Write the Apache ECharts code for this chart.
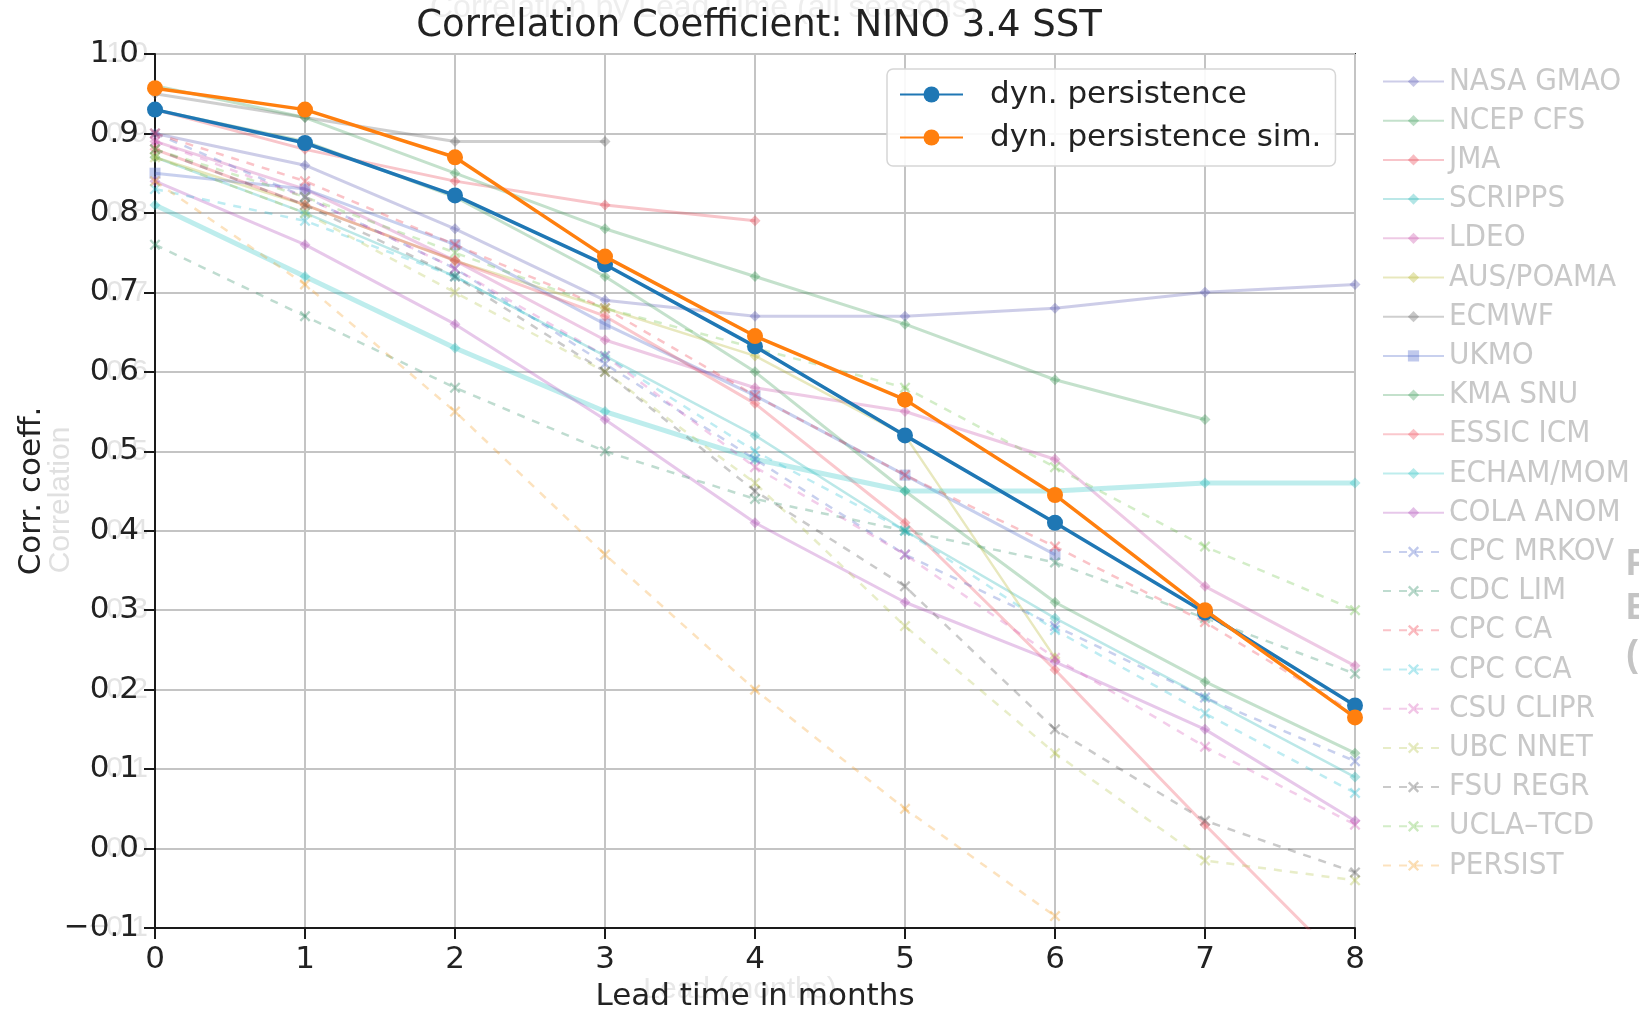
<!DOCTYPE html>
<html>
<head>
<meta charset="utf-8">
<script src="https://cdn.jsdelivr.net/npm/echarts@6/dist/echarts.min.js"></script>
<style>
html,body{margin:0;padding:0;background:#fff;}
#chart{width:1639px;height:1010px;}
</style>
</head>
<body>
<div id="chart"></div>
<script>
// ---------- data ----------
const leads = [0, 1, 2, 3, 4, 5, 6, 7, 8];
const yMin = -0.1, yMax = 1.0, yStep = 0.1;

const dynPersistence    = [0.930, 0.888, 0.822, 0.735, 0.632, 0.520, 0.410, 0.297, 0.180];
const dynPersistenceSim = [0.957, 0.930, 0.870, 0.745, 0.645, 0.565, 0.445, 0.300, 0.165];

// faint background models (lead 0..8, null = not available)
const nasaGmao  = [0.90, 0.86, 0.78, 0.69, 0.67, 0.67, 0.68, 0.70, 0.71];
const ncepCfs   = [0.93, 0.89, 0.82, 0.72, 0.60, 0.45, 0.31, 0.21, 0.12];
const jma       = [0.93, 0.88, 0.84, 0.81, 0.79, null, null, null, null];
const scripps   = [0.87, 0.80, 0.72, 0.62, 0.52, 0.40, 0.29, 0.19, 0.09];
const ldeo      = [0.89, 0.83, 0.74, 0.64, 0.58, 0.55, 0.49, 0.33, 0.23];
const ausPoama  = [0.87, 0.81, 0.74, 0.68, 0.62, 0.52, 0.24, null, null];
const ecmwf     = [0.95, 0.92, 0.89, 0.89, null, null, null, null, null];
const ukmo      = [0.85, 0.83, 0.76, 0.66, 0.57, 0.47, 0.37, null, null];
const kmaSnu    = [0.96, 0.92, 0.85, 0.78, 0.72, 0.66, 0.59, 0.54, null];
const essicIcm  = [0.88, 0.81, 0.74, 0.67, 0.56, 0.41, 0.225, 0.03, -0.16];
const echamMom  = [0.81, 0.72, 0.63, 0.55, 0.49, 0.45, 0.45, 0.46, 0.46];
const colaAnom  = [0.84, 0.76, 0.66, 0.54, 0.41, 0.31, 0.235, 0.15, 0.035];
const cpcMrkov  = [0.90, 0.82, 0.73, 0.61, 0.49, 0.37, 0.28, 0.19, 0.11];
const cdcLim    = [0.76, 0.67, 0.58, 0.50, 0.44, 0.40, 0.36, 0.29, 0.22];
const cpcCa     = [0.90, 0.84, 0.76, 0.68, 0.57, 0.47, 0.38, 0.285, 0.17];
const cpcCca    = [0.83, 0.79, 0.72, 0.62, 0.50, 0.40, 0.275, 0.17, 0.07];
const csuClipr  = [0.89, 0.82, 0.73, 0.62, 0.48, 0.37, 0.24, 0.128, 0.03];
const ubcNnet   = [0.87, 0.80, 0.70, 0.60, 0.46, 0.28, 0.12, -0.015, -0.04];
const fsuRegr   = [0.88, 0.81, 0.72, 0.60, 0.45, 0.33, 0.15, 0.035, -0.03];
const uclaTcd   = [0.88, 0.82, 0.75, 0.68, 0.63, 0.58, 0.48, 0.38, 0.30];
const persist   = [0.84, 0.71, 0.55, 0.37, 0.20, 0.05, -0.085, null, null];

const bgNames = ['NASA GMAO','NCEP CFS','JMA','SCRIPPS','LDEO','AUS/POAMA','ECMWF','UKMO','KMA SNU',
  'ESSIC ICM','ECHAM/MOM','COLA ANOM','CPC MRKOV','CDC LIM','CPC CA','CPC CCA','CSU CLIPR',
  'UBC NNET','FSU REGR','UCLA\u2013TCD','PERSIST'];
const bgValues = [nasaGmao, ncepCfs, jma, scripps, ldeo, ausPoama, ecmwf, ukmo, kmaSnu,
  essicIcm, echamMom, colaAnom, cpcMrkov, cdcLim, cpcCa, cpcCca, csuClipr,
  ubcNnet, fsuRegr, uclaTcd, persist];

// ---------- styles ----------
const bgColors = ['#5a5ab4','#3a9a55','#e8404e','#22b4b4','#c850a8','#b4b428','#606060','#4a64c8','#3a9a55',
  '#f04a5a','#28c4c4','#b048b8','#4a64c8','#2a8a62','#f03848','#28c0d4','#d858b8',
  '#b4c448','#505050','#6cc448','#f4a028'];
const bgDashed = [false,false,false,false,false,false,false,false,false,false,false,false,
  true,true,true,true,true,true,true,true,true];
const bgWidth  = [3,3,3,2.5,3,2.5,3,3,3,3,5,3,2.5,2.5,2.5,2.5,2.5,2.5,2.5,2.5,2.5];
const xPath = 'path://M0,1.5L1.5,0L5,3.5L8.5,0L10,1.5L6.5,5L10,8.5L8.5,10L5,6.5L1.5,10L0,8.5L3.5,5Z';

const pair = arr => leads.map((x, i) => [x, arr[i]]).filter(p => p[1] !== null);
const fmt = v => { const s = Math.abs(v) < 1e-9 ? '0.0' : v.toFixed(1); return s.replace('-', '\u2212'); };

const series = [];
bgNames.forEach((name, i) => {
  series.push({
    name: name, type: 'line', data: pair(bgValues[i]), z: 2,
    symbol: bgDashed[i] ? xPath : (i === 7 ? 'rect' : 'diamond'),
    symbolSize: 11, showSymbol: true, clip: true,
    lineStyle: { color: bgColors[i], width: bgWidth[i], type: bgDashed[i] ? [8, 8] : 'solid', opacity: 0.3 },
    itemStyle: { color: bgColors[i], opacity: 0.35 },
    emphasis: { disabled: true }, silent: true
  });
});
series.push({
  name: 'dyn. persistence', type: 'line', data: pair(dynPersistence), z: 10,
  symbol: 'circle', symbolSize: 16, lineStyle: { color: '#1f77b4', width: 3.5 },
  itemStyle: { color: '#1f77b4' }, emphasis: { disabled: true }
});
series.push({
  name: 'dyn. persistence sim.', type: 'line', data: pair(dynPersistenceSim), z: 11,
  symbol: 'circle', symbolSize: 16, lineStyle: { color: '#ff7f0e', width: 3.5 },
  itemStyle: { color: '#ff7f0e' }, emphasis: { disabled: true }
});

const chart = echarts.init(document.getElementById('chart'), null, { renderer: 'canvas' });
chart.setOption({
  animation: false,
  backgroundColor: '#ffffff',
  title: {
    text: 'Correlation Coefficient: NINO 3.4 SST', left: 754, top: 3, textAlign: 'center',
    textStyle: { fontFamily: 'DejaVu Sans', fontSize: 37, fontWeight: 'normal', color: '#222' }
  },
  grid: { left: 155, right: 284, top: 54, bottom: 82, show: true, borderColor: '#1a1a1a', borderWidth: 2,
    containLabel: false, outerBoundsMode: 'none' },
  xAxis: {
    type: 'value', min: 0, max: 8, interval: 1,
    name: 'Lead time in months', nameLocation: 'middle', nameGap: 53,
    nameTextStyle: { fontFamily: 'DejaVu Sans', fontSize: 31, color: '#222' },
    axisLine: { show: true, onZero: false, lineStyle: { color: '#1a1a1a', width: 2 } },
    axisTick: { show: true, length: 11, lineStyle: { color: '#1a1a1a', width: 2 } },
    axisLabel: { fontFamily: 'DejaVu Sans', fontSize: 31, color: '#222', margin: 16, formatter: v => String(v) },
    splitLine: { show: true, lineStyle: { color: '#c4c4c4', width: 2 } }
  },
  yAxis: [{
    type: 'value', min: yMin, max: yMax, interval: yStep,
    name: 'Corr. coeff.', nameLocation: 'middle', nameGap: 108, nameRotate: 90,
    nameTextStyle: { fontFamily: 'DejaVu Sans', fontSize: 31, color: '#222' },
    axisLine: { show: true, onZero: false, lineStyle: { color: '#1a1a1a', width: 2 } },
    axisTick: { show: true, length: 11, lineStyle: { color: '#1a1a1a', width: 2 } },
    axisLabel: { fontFamily: 'DejaVu Sans', fontSize: 31, color: '#222', margin: 16, formatter: fmt },
    splitLine: { show: true, lineStyle: { color: '#c4c4c4', width: 2 } }
  }, {
    type: 'value', min: yMin, max: yMax, interval: yStep, position: 'left', offset: -9,
    axisLine: { show: false }, axisTick: { show: false }, splitLine: { show: false },
    axisLabel: { fontFamily: 'Liberation Sans', fontSize: 30, color: '#e4e4e4', margin: 16, formatter: fmt,
      padding: [6, 0, 0, 0] }, z: -1
  }],
  legend: [{
    data: ['dyn. persistence', 'dyn. persistence sim.'], z: 20,
    left: 887, top: 69, orient: 'vertical', selectedMode: false,
    padding: [10, 14, 13, 12], itemWidth: 63, itemHeight: 20, itemGap: 12,
    borderColor: '#d6d6d6', borderWidth: 1.5, borderRadius: 6, backgroundColor: 'rgba(255,255,255,0.9)',
    textStyle: { fontFamily: 'DejaVu Sans', fontSize: 31, lineHeight: 31, color: '#222', padding: [0, 0, 0, 22] }
  }, {
    data: bgNames, left: 1382, top: 66, orient: 'vertical', selectedMode: false,
    padding: 0, itemWidth: 61, itemHeight: 14, itemGap: 8.2,
    textStyle: { fontFamily: '"DejaVu Sans Condensed", "Liberation Sans Narrow", sans-serif',
      fontSize: 31, lineHeight: 31, color: '#c8c8c8' }
  }],
  graphic: [
    { type: 'text', left: 430, top: -8, z: 0, silent: true,
      style: { text: 'Correlation by Lead Time (all seasons)', fill: '#eeeeee', font: '32px "Liberation Sans", sans-serif' } },
    { type: 'text', x: 61, y: 500, rotation: Math.PI / 2, z: 0, silent: true,
      style: { text: 'Correlation', fill: '#e0e0e0', align: 'center', verticalAlign: 'middle', font: '30px "Liberation Sans", sans-serif' } },
    { type: 'text', x: 740, y: 990, z: 0, silent: true,
      style: { text: 'Lead (months)', fill: '#e8e8e8', align: 'center', verticalAlign: 'middle', font: '30px "Liberation Sans", sans-serif' } },
    { type: 'text', x: 1626, y: 565, silent: true,
      style: { text: 'F', fill: '#c4c4c4', verticalAlign: 'middle', font: 'bold 36px "Liberation Sans", sans-serif' } },
    { type: 'text', x: 1626, y: 609, silent: true,
      style: { text: 'E', fill: '#c4c4c4', verticalAlign: 'middle', font: 'bold 36px "Liberation Sans", sans-serif' } },
    { type: 'text', x: 1626, y: 656, silent: true,
      style: { text: '(', fill: '#c4c4c4', verticalAlign: 'middle', font: 'bold 36px "Liberation Sans", sans-serif' } }
  ],
  series: series
});
</script>
</body>
</html>
